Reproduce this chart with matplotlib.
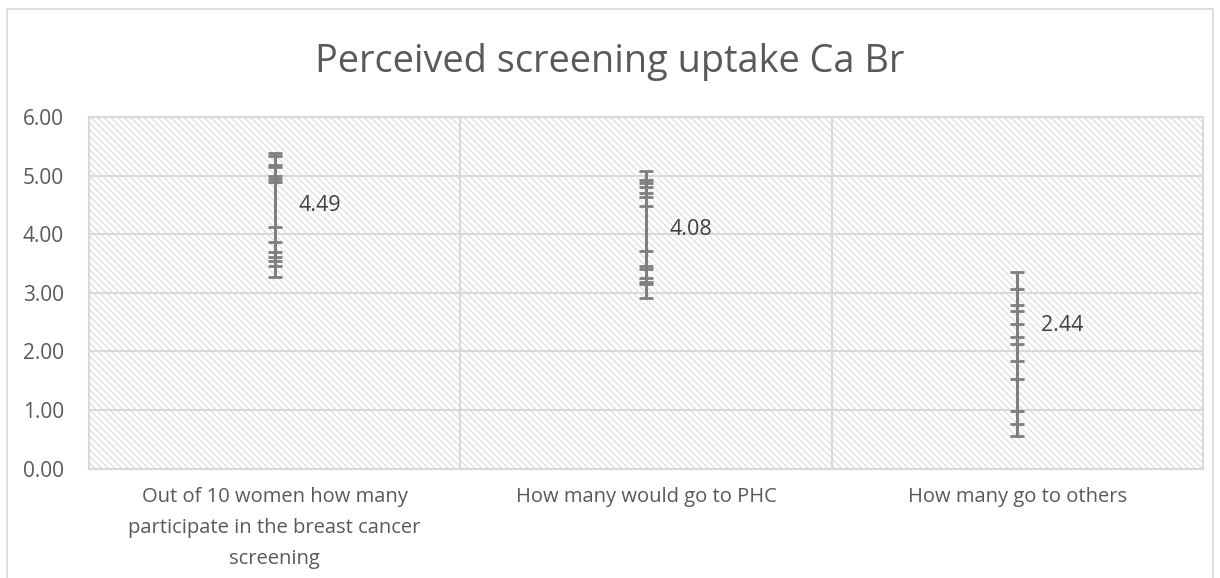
import matplotlib
matplotlib.use("Agg")
import matplotlib.pyplot as plt
from matplotlib.patches import Rectangle

# ---- data ----
categories = [
    "Out of 10 women how many\nparticipate in the breast cancer\nscreening",
    "How many would go to PHC",
    "How many go to others",
]
means = [4.49, 4.08, 2.44]
caps_cat1 = [5.39, 5.34, 5.18, 5.14, 4.99, 4.95, 4.89, 4.12, 3.87, 3.69, 3.62, 3.55, 3.45, 3.27]
caps_cat2 = [5.08, 4.93, 4.87, 4.80, 4.71, 4.63, 4.48, 3.72, 3.46, 3.40, 3.25, 3.19, 3.15, 2.91]
caps_cat3 = [3.35, 3.07, 2.79, 2.69, 2.47, 2.25, 2.13, 1.83, 1.53, 0.98, 0.76, 0.55]
cap_values = [caps_cat1, caps_cat2, caps_cat3]
y_ticks = [0, 1, 2, 3, 4, 5, 6]
title = "Perceived screening uptake Ca Br"

plt.rcParams['font.family'] = ['Open Sans', 'DejaVu Sans']
plt.rcParams['hatch.color'] = '#dedede'
plt.rcParams['hatch.linewidth'] = 0.9

W, H = 1220, 578
fig = plt.figure(figsize=(W / 100, H / 100), dpi=100)
fig.patch.set_facecolor('white')

# outer chart border
fig.add_artist(Rectangle((7 / W, -0.1), (1213 - 7) / W, 1.1 - 9 / H,
                         transform=fig.transFigure, fill=False,
                         edgecolor='#d9d9d9', lw=1.2))

left, right, top, bottom = 89, 1203, 117, 468.7
ax = fig.add_axes([left / W, (H - bottom) / H, (right - left) / W, (bottom - top) / H])

# hatched plot area background
ax.add_patch(Rectangle((0, 0), 1, 1, transform=ax.transAxes, facecolor='white',
                       hatch='\\\\\\\\\\', edgecolor='#dedede', lw=0, zorder=0))

ax.set_xlim(-0.5, len(categories) - 0.5)
ax.set_ylim(0, 6)

for t in y_ticks:
    ax.axhline(t, color='#d9d9d9', lw=1.5, zorder=1)
for b in [0.5, 1.5]:
    ax.axvline(b, color='#d9d9d9', lw=1.5, zorder=1)

grey = '#7f7f7f'
for i, (m, caps) in enumerate(zip(means, cap_values)):
    ax.vlines(i, min(caps), max(caps), color=grey, lw=2.2, zorder=3)
    ax.plot([i] * len(caps), caps, ls='none', marker='_', ms=10, mew=2.0,
            color=grey, zorder=3)
    ax.annotate(f"{m:.2f}", (i, m), xytext=(17, 0), textcoords='offset points',
                va='center', ha='left', fontsize=15.5, color='#404040', zorder=4)

ax.set_yticks(y_ticks)
ax.set_yticklabels([f"{t:.2f}" for t in y_ticks], fontsize=15, color='#595959')
ax.set_xticks(range(len(categories)))
ax.set_xticklabels(categories, fontsize=14.5, color='#595959', linespacing=1.75)
ax.tick_params(axis='y', length=0, pad=18)
ax.tick_params(axis='x', length=0, pad=13)

for s in ax.spines.values():
    s.set_color('#d9d9d9')
    s.set_linewidth(1.5)

fig.text(610 / W, 1 - 62 / H, title, ha='center', va='center',
         fontsize=27.3, color='#595959')

fig.savefig("out.png", dpi=100)
